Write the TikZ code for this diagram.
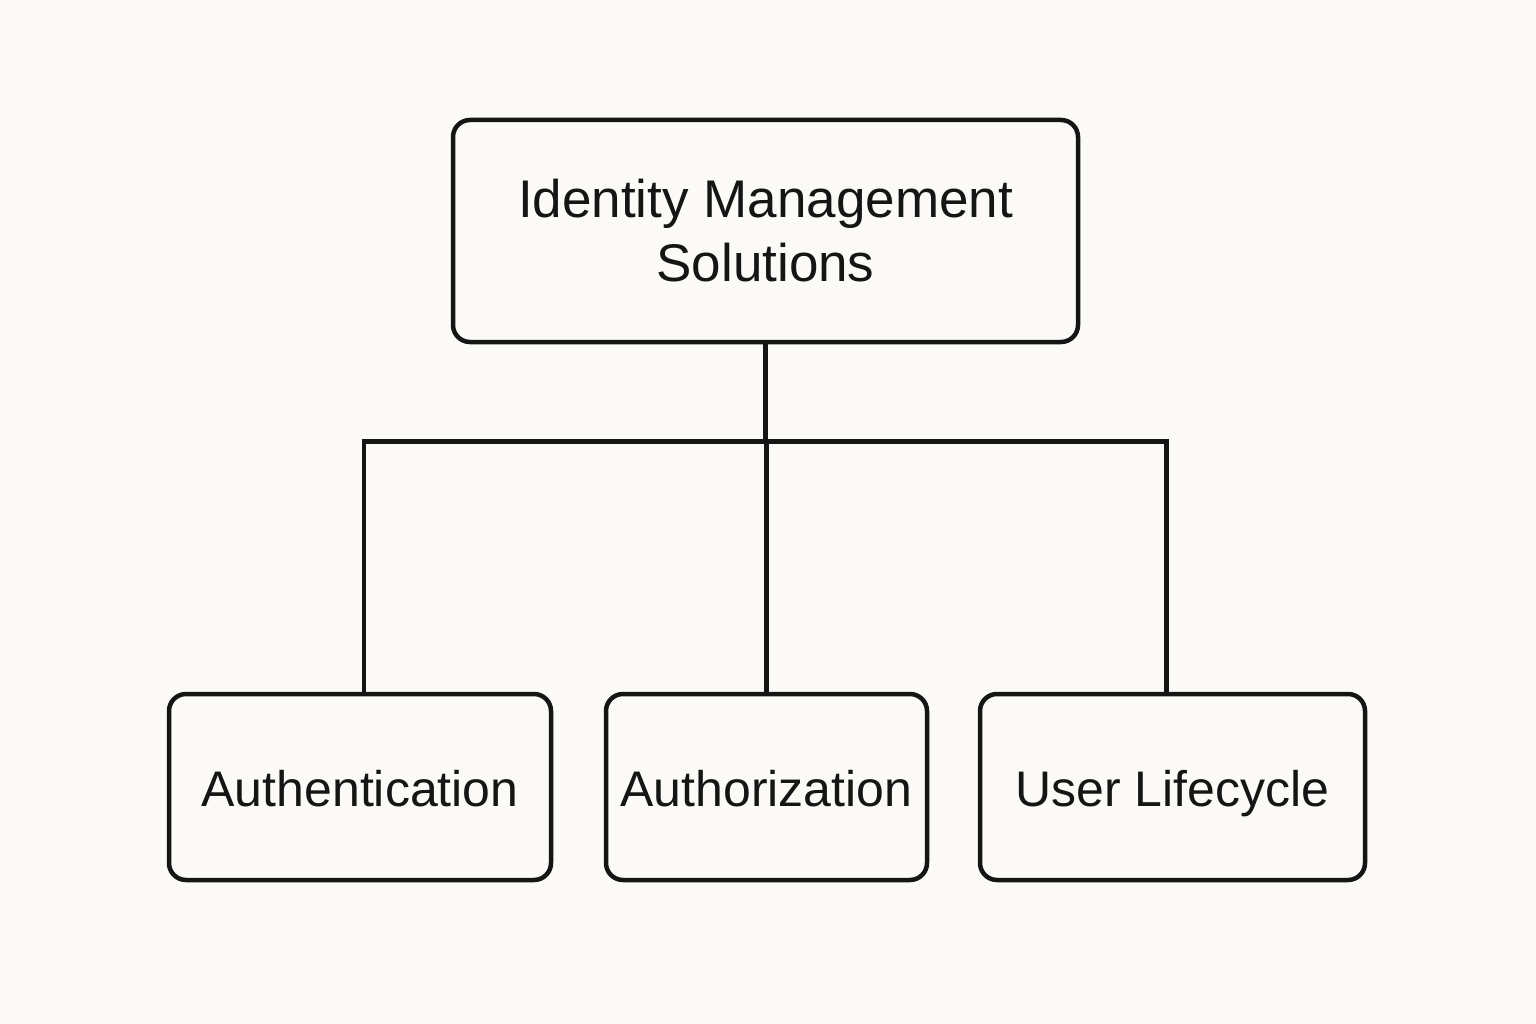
\documentclass[tikz,border=0pt]{standalone}
\usepackage{fontspec}
\setmainfont{Liberation Sans}
\definecolor{bg}{HTML}{FBFAF6}
\definecolor{ink}{HTML}{151515}
\begin{document}
\begin{tikzpicture}[x=1pt,y=-1pt,
  box/.style={draw=ink,line width=4.5pt,rounded corners=17pt,rectangle,
    minimum height=186pt,inner sep=0pt,text=ink,align=center,
    font=\fontsize{50}{64}\selectfont},
  leaf/.style={box,text height=44pt,text depth=6pt},
  link/.style={draw=ink,line width=4.5pt}]
\fill[bg] (0,0) rectangle (1536,1024);
\useasboundingbox (0,0) rectangle (1536,1024);
\node[box,minimum width=625pt,minimum height=222pt,font=\fontsize{53}{64}\selectfont] (top) at (765.5,231) {Identity Management\\Solutions};
\node[leaf,minimum width=382pt] (auth) at (360,787) {Authentication};
\node[leaf,minimum width=321pt] (authz) at (766.5,787) {Authorization};
\node[leaf,minimum width=385pt] (life) at (1172.5,787) {User Lifecycle};
\path (top.south) ++(0,97) coordinate (j);
\draw[link] (top.south) -- (j);
\draw[link] ([xshift=4pt]auth.north) |- ([xshift=-6pt]life.north |- j) -- ([xshift=-6pt]life.north);
\draw[link] (authz.north) -- (authz.north |- j);
\end{tikzpicture}
\end{document}
